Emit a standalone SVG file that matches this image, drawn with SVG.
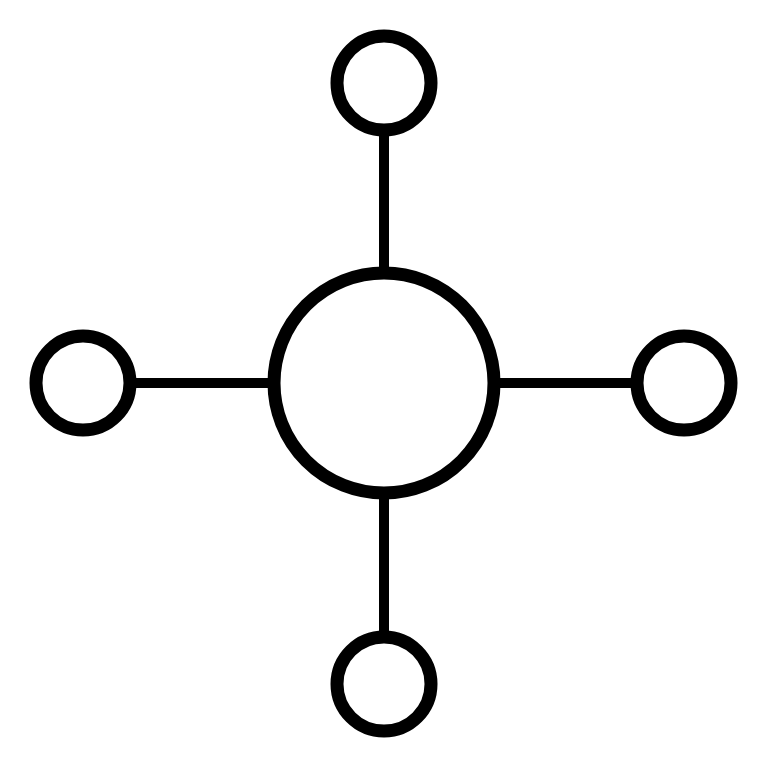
<svg xmlns="http://www.w3.org/2000/svg" width="768" height="768" viewBox="0 0 768 768">
<style>
.n{fill:#fff;stroke:#000;stroke-width:13}
.c{stroke:#000;stroke-width:10;fill:none}
</style>
<rect width="768" height="768" fill="#fff"/>
<g id="connectors">
<line class="c" x1="384" y1="136" x2="384" y2="272"/>
<line class="c" x1="384" y1="494" x2="384" y2="632"/>
<line class="c" x1="136" y1="383" x2="272" y2="383"/>
<line class="c" x1="496" y1="383" x2="632" y2="383"/>
</g>
<g id="center"><circle class="n" cx="384" cy="383" r="110"/></g>
<g id="top"><circle class="n" cx="384" cy="83" r="47"/></g>
<g id="bottom"><circle class="n" cx="384" cy="684" r="47"/></g>
<g id="left"><circle class="n" cx="83" cy="383" r="47"/></g>
<g id="right"><circle class="n" cx="684" cy="383" r="47"/></g>
</svg>
